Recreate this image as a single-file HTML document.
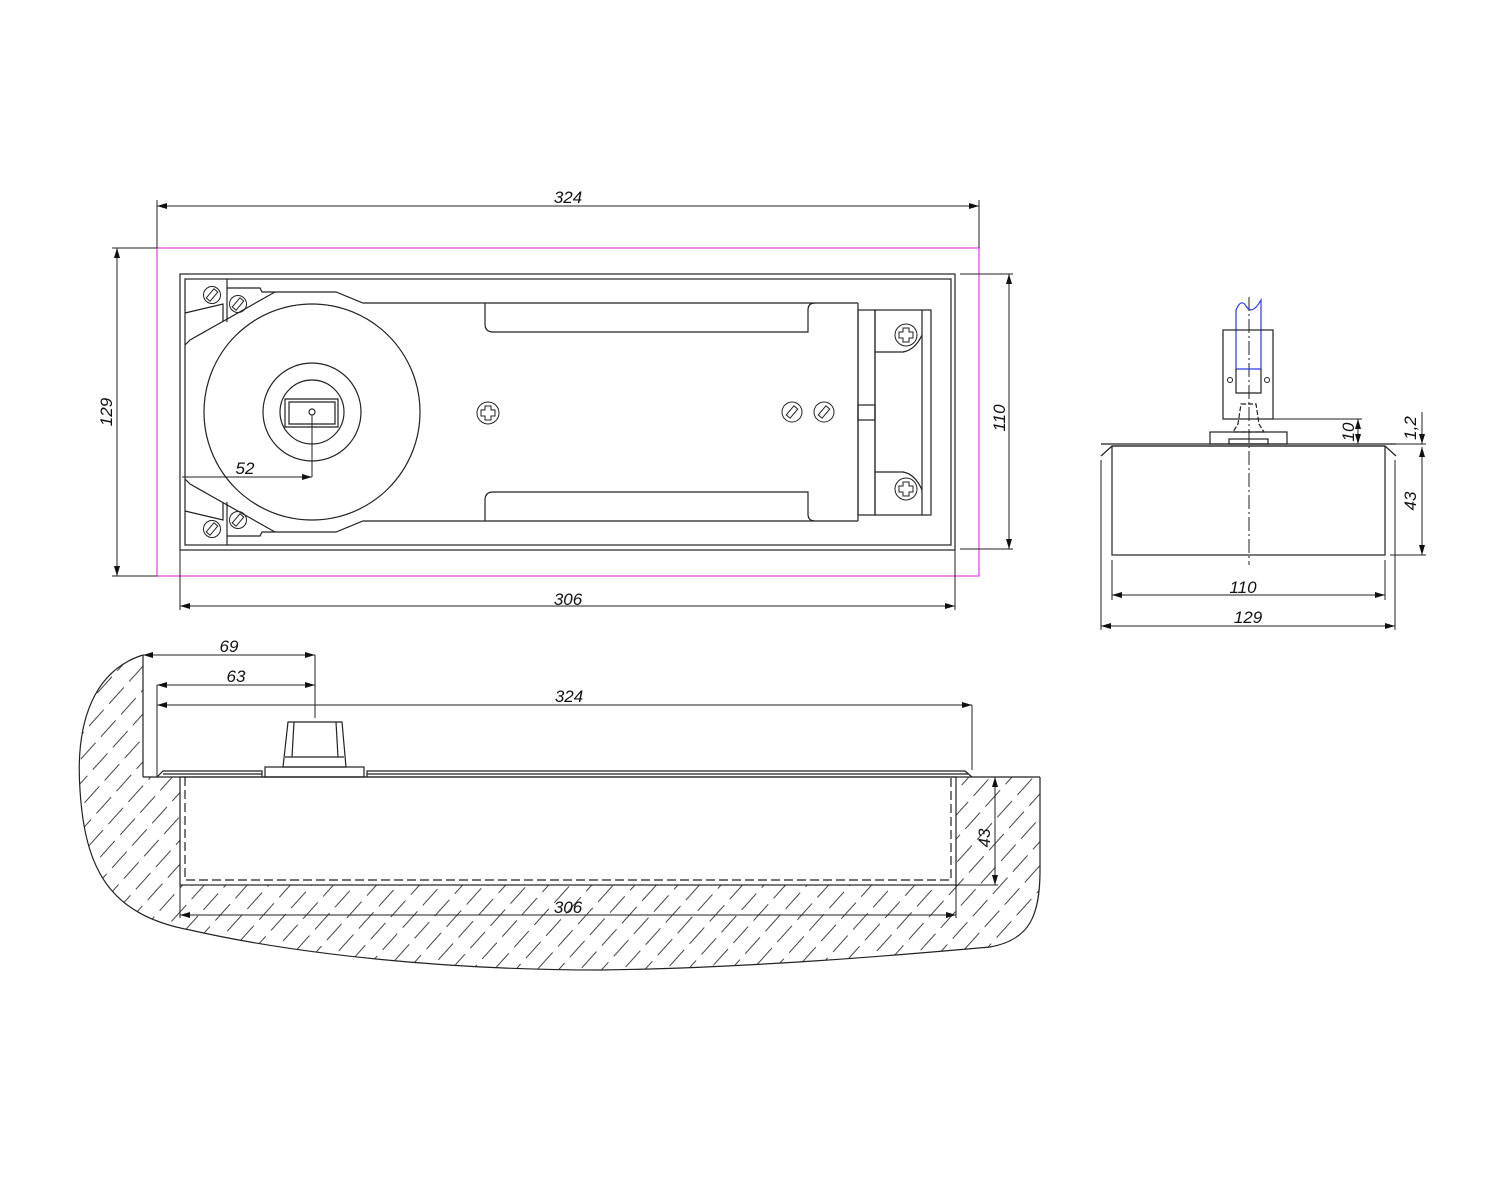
<!DOCTYPE html>
<html><head><meta charset="utf-8"><style>
html,body{margin:0;padding:0;background:#fff;}
svg{display:block;}
text{font-family:"Liberation Sans",sans-serif;font-style:italic;font-size:17px;fill:#111;}
</style></head><body>
<svg width="1500" height="1200" viewBox="0 0 1500 1200" xmlns="http://www.w3.org/2000/svg">
<defs>
<marker id="a" viewBox="0 0 10 6" refX="10" refY="3" markerWidth="10" markerHeight="6" orient="auto-start-reverse" markerUnits="userSpaceOnUse"><path d="M0,0 L10,3 L0,6 z" fill="#111"/></marker>
<pattern id="h" width="60" height="16" patternUnits="userSpaceOnUse" patternTransform="rotate(-48)">
<line x1="0" y1="8" x2="60" y2="8" stroke="#444" stroke-width="1" stroke-dasharray="22,8"/>
</pattern>
<clipPath id="gc"><path d="M143,655 C95,670 75,720 80,790 C85,870 110,915 190,930 C300,955 450,970 600,970 C750,968 900,955 990,947 C1030,940 1040,915 1040,870 L1040,777 L956,777 L956,885 L180,885 L180,777 L143,777 Z"/></clipPath>
<g id="sl"><circle r="8.5"/><rect x="-2.5" y="-6" width="5" height="12" transform="rotate(40)"/></g>
</defs>

<g fill="none" stroke="#222" stroke-width="1.2">
<rect x="157" y="248" width="822" height="328" stroke="#e040e0"/>
<rect x="180" y="274" width="775" height="276"/>
<rect x="185" y="279" width="766" height="266"/>
<line x1="157" y1="200" x2="157" y2="248" stroke-width="1"/>
<line x1="979" y1="200" x2="979" y2="248" stroke-width="1"/>
<line x1="157" y1="206" x2="979" y2="206" stroke-width="1" marker-start="url(#a)" marker-end="url(#a)"/>
<line x1="112" y1="248" x2="157" y2="248" stroke-width="1"/>
<line x1="112" y1="576" x2="157" y2="576" stroke-width="1"/>
<line x1="117" y1="248" x2="117" y2="576" stroke-width="1" marker-start="url(#a)" marker-end="url(#a)"/>
<line x1="960" y1="274" x2="1013" y2="274" stroke-width="1"/>
<line x1="960" y1="549" x2="1013" y2="549" stroke-width="1"/>
<line x1="1009" y1="274" x2="1009" y2="549" stroke-width="1" marker-start="url(#a)" marker-end="url(#a)"/>
<line x1="180" y1="550" x2="180" y2="610" stroke-width="1"/>
<line x1="955" y1="550" x2="955" y2="610" stroke-width="1"/>
<line x1="180" y1="606" x2="955" y2="606" stroke-width="1" marker-start="url(#a)" marker-end="url(#a)"/>

<line x1="227" y1="279" x2="227" y2="322"/>
<line x1="227" y1="502" x2="227" y2="545"/>
<path d="M185,313 L223,304 L223,322"/>
<path d="M185,511 L223,520 L223,502"/>
<path d="M185,345 L190,340 L275,292"/>
<path d="M185,479 L190,484 L275,532"/>
<path d="M227,288 L260,288 L262,292 L336,292 L363,303 L858,303"/>
<path d="M227,536 L260,536 L262,532 L336,532 L363,521 L858,521"/>
<circle cx="312" cy="412" r="108"/>
<circle cx="312" cy="412" r="49"/>
<circle cx="312" cy="412" r="32"/>
<path d="M285,399 L338,399 L338,427 L285,427 Z"/>
<path d="M289,402 L335,402 L335,424 L289,424 Z"/>
<circle cx="312" cy="412" r="3"/>
<line x1="312" y1="415" x2="312" y2="477" stroke-width="1"/>
<line x1="182" y1="477" x2="312" y2="477" stroke-width="1" marker-end="url(#a)"/>
<g stroke-width="1">
<use href="#sl" x="212" y="295"/>
<use href="#sl" x="238" y="304"/>
<use href="#sl" x="212" y="529"/>
<use href="#sl" x="238" y="520"/>
<circle cx="792" cy="412" r="10"/><rect x="789.5" y="406" width="5" height="12" transform="rotate(40 792 412)"/>
<circle cx="824" cy="412" r="10"/><rect x="821.5" y="406" width="5" height="12" transform="rotate(40 824 412)"/>
<circle cx="488" cy="413" r="11"/><path d="M485,406 h6 v4 h4 v6 h-4 v4 h-6 v-4 h-4 v-6 h4 z"/>
<circle cx="906" cy="335" r="11"/><path d="M903,328 h6 v4 h4 v6 h-4 v4 h-6 v-4 h-4 v-6 h4 z"/>
<circle cx="906" cy="489" r="11"/><path d="M903,482 h6 v4 h4 v6 h-4 v4 h-6 v-4 h-4 v-6 h4 z"/>
</g>
<path d="M485,303 L485,324 Q485,332 493,332 L808,332 L808,310 Q808,303 815,303"/>
<path d="M485,521 L485,500 Q485,492 493,492 L808,492 L808,514 Q808,521 815,521"/>
<line x1="858" y1="303" x2="858" y2="521"/>
<rect x="858" y="310" width="17" height="205"/>
<rect x="858" y="405" width="17" height="15"/>
<rect x="875" y="310" width="56" height="205"/>
<line x1="922" y1="310" x2="922" y2="515"/>
<path d="M875,352 L903,352 Q915,350 922,335"/>
<path d="M875,472 L903,472 Q915,474 922,490"/>

<line x1="1249" y1="297" x2="1249" y2="565" stroke-width="1" stroke-dasharray="14,3,2,3"/>
<path d="M1236,369 L1236,310 Q1241,298 1246,306 Q1252,316 1261,300 L1261,369 Z" stroke="#2a3ae0"/>
<rect x="1223" y="330" width="50" height="89"/>
<path d="M1236,369 L1236,393 L1261,393 L1261,369"/>
<circle cx="1230" cy="380" r="2.5" stroke-width="1"/>
<circle cx="1267" cy="380" r="2.5" stroke-width="1"/>
<path d="M1241,404 L1256,404 L1259,424 L1264,432 L1233,432 L1238,424 Z" stroke-dasharray="5,2"/>
<rect x="1210" y="432" width="77" height="12"/>
<rect x="1229" y="439" width="39" height="5"/>
<line x1="1101" y1="444" x2="1396" y2="444"/>
<path d="M1101,456 L1112,446 L1385,446 L1396,456"/>
<rect x="1112" y="446" width="273" height="109"/>
<g stroke-width="1">
<line x1="1112" y1="560" x2="1112" y2="600"/>
<line x1="1385" y1="560" x2="1385" y2="600"/>
<line x1="1112" y1="595" x2="1385" y2="595" marker-start="url(#a)" marker-end="url(#a)"/>
<line x1="1101" y1="460" x2="1101" y2="630"/>
<line x1="1395" y1="460" x2="1395" y2="630"/>
<line x1="1101" y1="626" x2="1395" y2="626" marker-start="url(#a)" marker-end="url(#a)"/>
<line x1="1273" y1="419" x2="1362" y2="419"/>
<line x1="1358" y1="419" x2="1358" y2="444" marker-start="url(#a)" marker-end="url(#a)"/>
<line x1="1290" y1="444" x2="1426" y2="444"/>
<line x1="1390" y1="555" x2="1426" y2="555"/>
<line x1="1422" y1="412" x2="1422" y2="444" marker-end="url(#a)"/>
<line x1="1422" y1="447" x2="1422" y2="555" marker-start="url(#a)" marker-end="url(#a)"/>
</g>

<rect x="60" y="640" width="1000" height="340" fill="url(#h)" stroke="none" clip-path="url(#gc)"/>
<path d="M143,655 C95,670 75,720 80,790 C85,870 110,915 190,930 C300,955 450,970 600,970 C750,968 900,955 990,947 C1030,940 1040,915 1040,870 L1040,777"/>
<line x1="143" y1="655" x2="143" y2="777"/>
<line x1="143" y1="777" x2="1040" y2="777"/>
<rect x="180" y="777" width="776" height="108"/>
<path d="M185,777 L185,880 L951,880 L951,777" stroke-dasharray="9,4"/>
<path d="M157,777 L163,771 L262,771 L262,777 M163,774 L262,774"/>
<path d="M367,777 L367,771 L965,771 L972,777 M367,774 L968,774"/>
<rect x="265" y="767" width="99" height="10"/>
<path d="M283,767 L288,722 L342,722 L346,767 Z"/>
<path d="M292,757 L294,722 M336,722 L338,757 M285,757 L344,757"/>
<g stroke-width="1">
<line x1="157" y1="685" x2="157" y2="777"/>
<line x1="315" y1="655" x2="315" y2="718"/>
<line x1="143" y1="655" x2="315" y2="655" marker-start="url(#a)" marker-end="url(#a)"/>
<line x1="157" y1="685" x2="315" y2="685" marker-start="url(#a)" marker-end="url(#a)"/>
<line x1="157" y1="705" x2="972" y2="705" marker-start="url(#a)" marker-end="url(#a)"/>
<line x1="972" y1="705" x2="972" y2="770"/>
<line x1="180" y1="885" x2="180" y2="918"/>
<line x1="956" y1="885" x2="956" y2="918"/>
<line x1="180" y1="915" x2="956" y2="915" marker-start="url(#a)" marker-end="url(#a)"/>
<line x1="956" y1="885" x2="998" y2="885"/>
<line x1="995" y1="777" x2="995" y2="885" marker-start="url(#a)" marker-end="url(#a)"/>
</g>
</g>

<text x="568" y="203" text-anchor="middle">324</text>
<text transform="translate(112,412) rotate(-90)" text-anchor="middle">129</text>
<text transform="translate(1005,418) rotate(-90)" text-anchor="middle">110</text>
<text x="568" y="605" text-anchor="middle">306</text>
<text x="245" y="474" text-anchor="middle">52</text>
<text x="1243" y="593" text-anchor="middle">110</text>
<text x="1248" y="623" text-anchor="middle">129</text>
<text transform="translate(1354,432) rotate(-90)" text-anchor="middle">10</text>
<text transform="translate(1416,428) rotate(-90)" text-anchor="middle">1,2</text>
<text transform="translate(1416,501) rotate(-90)" text-anchor="middle">43</text>
<text x="229" y="652" text-anchor="middle">69</text>
<text x="236" y="682" text-anchor="middle">63</text>
<text x="569" y="702" text-anchor="middle">324</text>
<text x="568" y="913" text-anchor="middle">306</text>
<text transform="translate(990,838) rotate(-90)" text-anchor="middle">43</text>
</svg>
</body></html>
